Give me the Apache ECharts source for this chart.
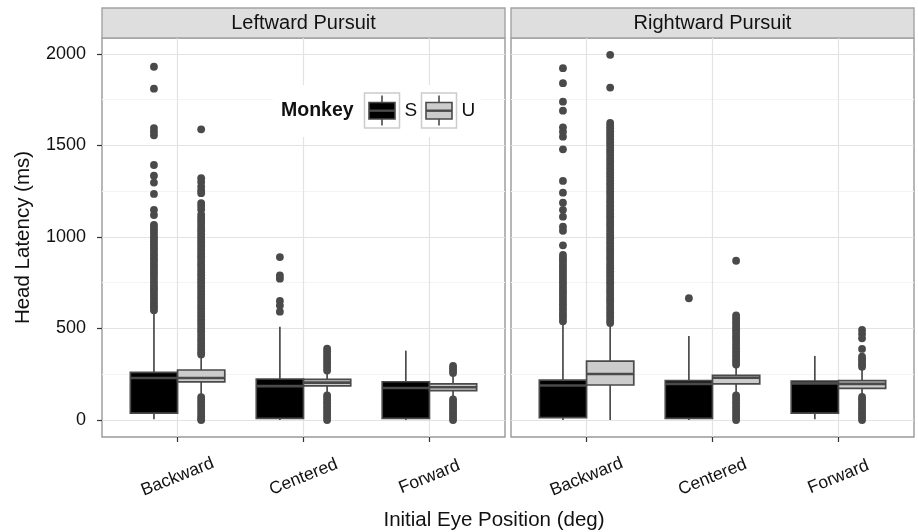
<!DOCTYPE html>
<html><head><meta charset="utf-8">
<script src="https://cdn.jsdelivr.net/npm/echarts@6/dist/echarts.min.js"></script>
<style>html,body{margin:0;padding:0;background:#fff}#c{width:918px;height:532px}</style>
</head><body><div id="c"></div>
<script>
const categories = ['Backward', 'Centered', 'Forward'];
const panels = ['Leftward Pursuit', 'Rightward Pursuit'];
const monkeys = ['S', 'U'];
const yTicks = [0, 500, 1000, 1500, 2000];
const yMinorTicks = [250, 750, 1250, 1750];

// box stats per category: [lower whisker, Q1, median, Q3, upper whisker]
const leftS  = [[4, 37, 229, 260, 585], [0, 9, 185, 224, 510], [0, 9, 175, 209, 379]];
const leftU  = [[140, 208, 229, 273, 345], [150, 186, 204, 222, 255], [125, 160, 179, 197, 240]];
const rightS = [[0, 13, 188, 218, 520], [0, 9, 197, 215, 459], [4, 37, 200, 213, 350]];
const rightU = [[0, 191, 251, 322, 515], [150, 197, 231, 244, 290], [140, 173, 197, 215, 280]];

// outliers
const leftS_Backward = [1930, 1810, 1595, 1575, 1555, 1393, 1335, 1297, 1235, 1148, 1120, 1066, 1052, 1036, 1021, 1004, 990, 976, 960, 944, 931, 915, 900, 884, 871, 855, 840, 826, 810, 795, 781, 765, 750, 734, 720, 706, 690, 675, 661, 645, 630, 616, 600];
const leftS_Centered = [890, 790, 772, 650, 625, 592];
const leftS_Forward = [];
const leftU_Backward = [1588, 1321, 1300, 1275, 1255, 1239, 1185, 1169, 1150, 1122, 1106, 1090, 1076, 1060, 1045, 1031, 1015, 1000, 985, 971, 955, 940, 926, 910, 895, 881, 865, 850, 836, 820, 805, 791, 775, 760, 746, 730, 715, 701, 685, 670, 656, 640, 625, 611, 595, 580, 566, 550, 535, 521, 505, 490, 476, 460, 445, 431, 415, 400, 386, 370, 358, 125, 110, 96, 80, 65, 51, 35, 20, 6, 0];
const leftU_Centered = [390, 376, 360, 345, 331, 315, 300, 286, 270, 134, 120, 105, 91, 75, 60, 46, 30, 15, 0];
const leftU_Forward = [295, 282, 270, 257, 112, 98, 84, 70, 56, 42, 28, 14, 0];
const rightS_Backward = [1922, 1840, 1739, 1690, 1599, 1575, 1548, 1479, 1306, 1242, 1187, 1148, 1111, 1056, 1034, 954, 902, 887, 873, 857, 842, 828, 812, 797, 783, 767, 752, 738, 722, 707, 693, 677, 662, 648, 632, 617, 603, 587, 572, 557, 540];
const rightS_Centered = [665];
const rightS_Forward = [];
const rightU_Backward = [1995, 1816, 1623, 1608, 1594, 1578, 1563, 1549, 1533, 1518, 1504, 1488, 1473, 1459, 1443, 1428, 1414, 1398, 1383, 1369, 1353, 1338, 1324, 1308, 1293, 1279, 1263, 1248, 1234, 1218, 1203, 1189, 1173, 1158, 1144, 1128, 1113, 1099, 1083, 1068, 1054, 1038, 1023, 1009, 993, 978, 964, 948, 933, 919, 903, 888, 874, 858, 843, 829, 813, 798, 784, 768, 753, 739, 723, 708, 694, 678, 663, 649, 633, 618, 604, 588, 573, 559, 543, 530];
const rightU_Centered = [870, 571, 556, 541, 527, 511, 496, 482, 466, 451, 437, 421, 406, 392, 376, 361, 347, 331, 318, 303, 134, 120, 105, 91, 75, 60, 46, 30, 15, 0];
const rightU_Forward = [492, 470, 446, 388, 346, 332, 318, 304, 291, 126, 112, 98, 84, 70, 56, 42, 28, 14, 0];

const boxes = [[leftS, leftU], [rightS, rightU]];
const outliers = [
  [[leftS_Backward, leftS_Centered, leftS_Forward], [leftU_Backward, leftU_Centered, leftU_Forward]],
  [[rightS_Backward, rightS_Centered, rightS_Forward], [rightU_Backward, rightU_Centered, rightU_Forward]]
];

const FONT = 'Liberation Sans, Arial, Helvetica, sans-serif';
const EDGE = '#4a4a4a';
const FILLS = ['#000000', '#cccccc'];
const BOX_W = 0.375, DODGE = 0.1875;
const SHIFTS = [-DODGE, DODGE];
const Y_MIN = -93, Y_MAX = 2087;
const GRID_L = [102, 511], GRID_W = 403, GRID_T = 38, GRID_H = 399;

function boxRenderer(shift, fill) {
  return function (params, api) {
    const x = api.value(0) + shift;
    const pLo = api.coord([x, api.value(1)]);
    const pQ1 = api.coord([x, api.value(2)]);
    const pMed = api.coord([x, api.value(3)]);
    const pQ3 = api.coord([x, api.value(4)]);
    const pHi = api.coord([x, api.value(5)]);
    const w = api.size([BOX_W, 0])[0];
    const cx = pQ1[0];
    return {
      type: 'group', children: [
        { type: 'line', shape: { x1: cx, y1: pHi[1], x2: cx, y2: pQ3[1] }, style: { stroke: EDGE, lineWidth: 1.7 } },
        { type: 'line', shape: { x1: cx, y1: pQ1[1], x2: cx, y2: pLo[1] }, style: { stroke: EDGE, lineWidth: 1.7 } },
        { type: 'rect', shape: { x: cx - w / 2, y: pQ3[1], width: w, height: pQ1[1] - pQ3[1] }, style: { fill: fill, stroke: EDGE, lineWidth: 1.7 } },
        { type: 'line', shape: { x1: cx - w / 2, y1: pMed[1], x2: cx + w / 2, y2: pMed[1] }, style: { stroke: EDGE, lineWidth: 2.6 } }
      ]
    };
  };
}

const grid = [], xAxis = [], yAxis = [], series = [], graphic = [];
for (let p = 0; p < 2; p++) {
  grid.push({ left: GRID_L[p], top: GRID_T, width: GRID_W, height: GRID_H, show: true, borderColor: '#999999', borderWidth: 1.4, backgroundColor: '#ffffff' });
  xAxis.push({
    type: 'value', gridIndex: p, min: 0.4, max: 3.6, position: 'bottom',
    axisLine: { show: false, onZero: false },
    axisTick: { show: true, length: 5, customValues: [1, 2, 3], lineStyle: { color: '#333', width: 1.2 } },
    axisLabel: { customValues: [1, 2, 3], formatter: v => categories[Math.round(v) - 1], rotate: 22, align: 'center', verticalAlign: 'middle', margin: 40, fontSize: 17.5, color: '#111', fontFamily: FONT },
    splitLine: { show: true, lineStyle: { color: '#e3e3e3', width: 1.2 } }
  });
  yAxis.push({
    type: 'value', gridIndex: p, min: Y_MIN, max: Y_MAX,
    axisLine: { show: false, onZero: false },
    axisTick: { show: p === 0, length: 5, customValues: yTicks, lineStyle: { color: '#333', width: 1.2 } },
    axisLabel: { show: p === 0, customValues: yTicks, formatter: v => String(v), margin: 16, fontSize: 18, color: '#111', fontFamily: FONT },
    splitLine: { show: true, lineStyle: { color: '#e3e3e3', width: 1.2 } },
    name: p === 0 ? 'Head Latency (ms)' : '', nameLocation: 'middle', nameGap: 68,
    nameTextStyle: { fontSize: 20.5, color: '#111', fontFamily: FONT }
  });
  yAxis.push({
    type: 'value', gridIndex: p, min: Y_MIN, max: Y_MAX, position: 'left',
    axisLine: { show: false, onZero: false }, axisLabel: { show: false },
    axisTick: { show: false, customValues: yMinorTicks },
    splitLine: { show: true, lineStyle: { color: '#f4f4f4', width: 1.2 } }
  });
  for (let m = 0; m < 2; m++) {
    series.push({
      type: 'custom', name: monkeys[m], xAxisIndex: p, yAxisIndex: p * 2,
      renderItem: boxRenderer(SHIFTS[m], FILLS[m]),
      data: boxes[p][m].map((b, i) => [i + 1].concat(b)), z: 3
    });
    const pts = [];
    outliers[p][m].forEach((arr, i) => arr.forEach(v => pts.push([i + 1 + SHIFTS[m], v])));
    series.push({
      type: 'scatter', xAxisIndex: p, yAxisIndex: p * 2, data: pts,
      symbol: 'circle', symbolSize: 7.8, itemStyle: { color: EDGE, opacity: 1 }, z: 4, silent: true
    });
  }
  graphic.push({ type: 'rect', shape: { x: GRID_L[p], y: 8, width: GRID_W, height: 30 }, style: { fill: '#dedede', stroke: '#a3a3a3', lineWidth: 1.4 } });
  graphic.push({ type: 'text', x: GRID_L[p] + GRID_W / 2, y: 23, style: { text: panels[p], fontSize: 20, fontFamily: FONT, fill: '#111', align: 'center', verticalAlign: 'middle' } });
}

// x-axis title
graphic.push({ type: 'text', x: 494, y: 520, style: { text: 'Initial Eye Position (deg)', fontSize: 20.5, fontFamily: FONT, fill: '#111', align: 'center', verticalAlign: 'middle' } });

// legend
const LEG_KEY_X = [364.5, 421.5];
graphic.push({ type: 'rect', z: 100, shape: { x: 273, y: 85, width: 208, height: 52 }, style: { fill: '#ffffff' } });
graphic.push({ type: 'text', z: 101, x: 281, y: 111, style: { text: 'Monkey', fontSize: 19.5, fontWeight: 'bold', fontFamily: FONT, fill: '#111', verticalAlign: 'middle' } });
for (let m = 0; m < 2; m++) {
  const kx = LEG_KEY_X[m];
  graphic.push({ type: 'rect', z: 101, shape: { x: kx, y: 93, width: 35, height: 35 }, style: { fill: '#ffffff', stroke: '#cccccc', lineWidth: 1.5 } });
  graphic.push({ type: 'line', z: 102, shape: { x1: kx + 17.5, y1: 95.5, x2: kx + 17.5, y2: 125.5 }, style: { stroke: EDGE, lineWidth: 1.6 } });
  graphic.push({ type: 'rect', z: 103, shape: { x: kx + 4.5, y: 102.5, width: 26, height: 16.5 }, style: { fill: FILLS[m], stroke: EDGE, lineWidth: 1.6 } });
  graphic.push({ type: 'line', z: 104, shape: { x1: kx + 4.5, y1: 110.7, x2: kx + 30.5, y2: 110.7 }, style: { stroke: EDGE, lineWidth: 2.4 } });
  graphic.push({ type: 'text', z: 101, x: kx + 40, y: 111, style: { text: monkeys[m], fontSize: 19, fontFamily: FONT, fill: '#111', verticalAlign: 'middle' } });
}

const chart = echarts.init(document.getElementById('c'), null, { renderer: 'canvas' });
chart.setOption({
  animation: false,
  backgroundColor: '#ffffff',
  textStyle: { fontFamily: FONT },
  grid, xAxis, yAxis, series, graphic
});
</script>
</body></html>
